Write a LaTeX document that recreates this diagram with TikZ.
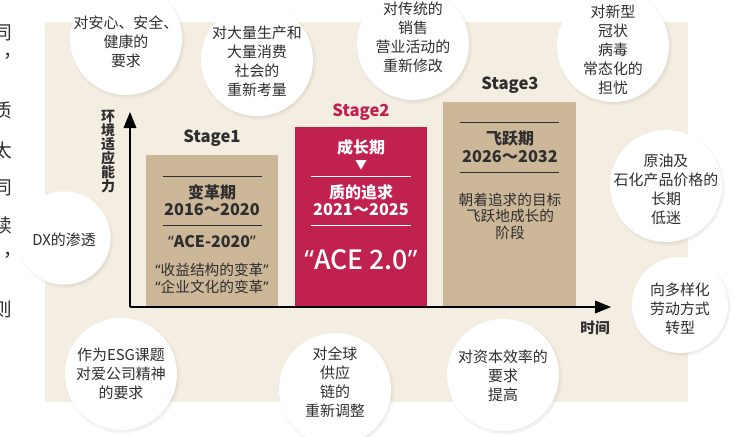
\documentclass[tikz,border=0pt]{standalone}
\usepackage{fontspec}
\setmainfont{Noto Sans CJK SC}
\newfontfamily\medfont{Noto Sans CJK SC Medium}
\newfontfamily\quotefont{Noto Sans}
\newcommand{\qt}[1]{{\quotefont“}#1{\quotefont”}}
\usetikzlibrary{positioning, arrows.meta, shadows, calc}

\definecolor{paper}{HTML}{F4EDE1}
\definecolor{sand}{HTML}{CDB799}
\definecolor{crimson}{HTML}{C1214E}
\definecolor{ink}{HTML}{2E2E2E}

\begin{document}
\begin{tikzpicture}[x=0.75pt, y=-0.75pt,
  bubble/.style={circle, fill=white, minimum size=#1, inner sep=0pt,
    circular drop shadow={shadow scale=1.04, shadow xshift=0.8pt, shadow yshift=-1.2pt, opacity=0.3}},
  bubble/.default=84pt,
  btext/.style={font=\fontsize{11.2}{14.3}\selectfont, text=ink, align=center},
  stagebox/.style={fill=#1, minimum width=99pt, anchor=south west, inner sep=0pt},
  slabel/.style={font=\fontsize{12.5}{15}\selectfont\bfseries, text=#1},
  shead/.style={font=\fontsize{12}{14}\selectfont\bfseries, text=#1, align=center},
  syear/.style={font=\fontsize{12.2}{15}\selectfont\bfseries, text=#1},
  sline/.style={draw=#1, line width=0.6pt},
  edge/.style={font=\fontsize{14}{16}\selectfont, text=ink},
  axis/.style={line width=1.1pt, -{Triangle[length=12pt, width=9.5pt]}}
]
\useasboundingbox (0,0) rectangle (743,436);

% Page text cut at the left edge
\node[edge] at (3,33) {同};
\node[edge] at (13,56) {，};
\node[edge] at (3,110) {质};
\node[edge] at (3,150) {太};
\node[edge] at (3,188) {同};
\node[edge] at (3,225) {续};
\node[edge] at (13,255) {，};
\node[edge] at (3,309) {则};

% Background
\fill[paper] (45,22) rectangle (688,402);

% Stage boxes
\node[stagebox=sand, minimum height=113.25pt] (s1) at (146,306) {};
\node[stagebox=crimson, minimum height=134.25pt] (s2) at (295,306) {};
\node[stagebox=sand, minimum height=153pt, minimum width=99.75pt] (s3) at (443,306) {};

% Stage1
\node[slabel=ink] at (212,138) {Stage1};
\draw[sline=ink] (163,176) -- (262,176);
\node[shead=ink] at (212,192) {变革期};
\node[syear=ink] at (212,210) {2016～2020};
\draw[sline=ink] (163,225) -- (262,225);
\node[shead=ink] at (212,242) {\qt{ACE-2020}};
\node[btext, font=\fontsize{11}{12.8}\selectfont] at (212,278) {\qt{收益结构的变革}\\\qt{企业文化的变革}};

% Stage2
\node[slabel=crimson] at (361,112) {Stage2};
\node[shead=white] at (361,147) {成长期};
\node[text=white, font=\fontsize{9}{10}\selectfont] at (361,165) {▼};
\draw[sline=white] (311,176) -- (411,176);
\node[shead=white] at (361,192) {质的追求};
\node[syear=white] at (361,210) {2021～2025};
\draw[sline=white] (311,225) -- (411,225);
\node[text=white, font=\fontsize{20}{22}\selectfont\medfont] at (361,260) {\qt{ACE 2.0}};

% Stage3
\node[slabel=ink] at (510,85) {Stage3};
\draw[sline=ink] (460,122) -- (559,122);
\node[shead=ink] at (510,139) {飞跃期};
\node[syear=ink] at (510,157) {2026～2032};
\draw[sline=ink] (460,172) -- (559,172);
\node[btext, font=\fontsize{11}{12.4}\selectfont] at (510,216) {朝着追求的目标\\飞跃地成长的\\阶段};

% Axes
\coordinate (origin) at (130,307);
\coordinate (ytop) at (130,112);
\coordinate (xend) at (611,307);
\draw[axis] (origin) -- (ytop);
\draw[axis] (origin) -- (xend);
\node[font=\fontsize{10.5}{10.5}\selectfont\bfseries, text=ink, align=center] (ylab) at (108,152) {环\\境\\适\\应\\能\\力};
\node[font=\fontsize{11}{12}\selectfont\bfseries, text=ink] (xlab) at (595,328) {时间};

% Bubbles
\node[bubble] (safe) at (126,39) {};
\node[btext] at (126,42) {对安心、安全、\\健康的\\要求};
\node[bubble] (mass) at (257,60) {};
\node[btext] at (257,61) {对大量生产和\\大量消费\\社会的\\重新考量};
\node[bubble] (sales) at (413,44) {};
\node[btext] at (413,37) {对传统的\\销售\\营业活动的\\重新修改};
\node[bubble] (covid) at (613,46) {};
\node[btext] at (613,50) {对新型\\冠状\\病毒\\常态化的\\担忧};
\node[bubble] (oil) at (666,186) {};
\node[btext] at (666,189) {原油及\\石化产品价格的\\长期\\低迷};
\node[bubble=72pt] (work) at (680,305) {};
\node[btext] at (680,309) {向多样化\\劳动方式\\转型};
\node[bubble=70pt] (dx) at (64,238) {};
\node[btext] at (64,240) {DX的渗透};
\node[bubble] (esg) at (121,374) {};
\node[btext] at (121,374) {作为ESG课题\\对爱公司精神\\的要求};
\node[bubble] (chain) at (335,389) {};
\node[btext] at (335,382) {对全球\\供应\\链的\\重新调整};
\node[bubble] (capital) at (503,375) {};
\node[btext] at (503,376) {对资本效率的\\要求\\提高};

\end{tikzpicture}
\end{document}
